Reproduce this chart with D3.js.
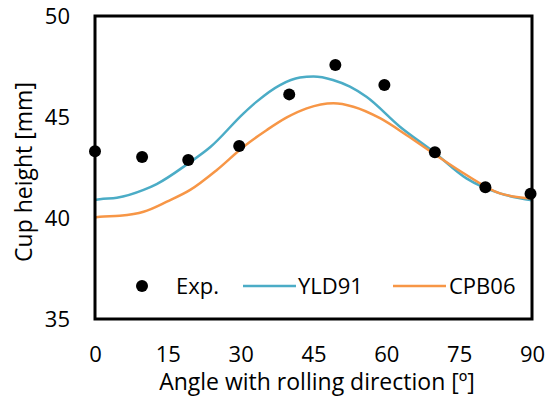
<!DOCTYPE html>
<html>
<head>
<meta charset="utf-8">
<script src="https://cdn.jsdelivr.net/npm/d3@7"></script>
<style>
  body { margin: 0; background: #fff; }
  text { font-family: "Open Sans", "Liberation Sans", sans-serif; fill: #000; }
</style>
</head>
<body>
<svg id="chart" width="556" height="401"></svg>
<script>
// measured points
const expAngle = [0, 9.7, 19.2, 29.7, 40, 49.5, 59.6, 70, 80.4, 89.7];
const expHeight = [43.3, 43.02, 42.87, 43.56, 46.12, 47.58, 46.58, 43.25, 41.52, 41.2];

// simulated curves
const yldAngle = [0, 1, 4.5, 10, 12.7, 19.2, 23.7, 30.6, 33.3, 38.1, 42.2, 45, 49, 52.5, 55.9, 62.8, 69.7, 76.5, 83.4, 90];
const yldHeight = [40.89, 40.93, 41.0, 41.39, 41.68, 42.7, 43.5, 45.18, 45.76, 46.58, 46.95, 47.0, 46.83, 46.5, 46.0, 44.52, 43.28, 41.96, 41.22, 40.88];

const cpbAngle = [0, 1, 5.1, 10, 14.8, 19.6, 25.1, 30.6, 35.4, 39.5, 43.6, 49.1, 53.2, 58.7, 64.2, 69.7, 76.5, 83.4, 90];
const cpbHeight = [40.03, 40.06, 40.11, 40.31, 40.81, 41.39, 42.38, 43.53, 44.36, 44.98, 45.43, 45.68, 45.51, 44.94, 44.1, 43.2, 42.13, 41.22, 40.96];

const xTicks = [0, 15, 30, 45, 60, 75, 90];
const yTicks = [35, 40, 45, 50];

const seriesNames = ['Exp.', 'YLD91', 'CPB06'];
const seriesColors = ['#000000', '#4bacc6', '#f79646'];

const svg = d3.select('#chart');
const margin = { left: 95, right: 24, top: 16, bottom: 82 };
const width = 556 - margin.left - margin.right;
const height = 401 - margin.top - margin.bottom;

const x = d3.scaleLinear().domain([0, 90]).range([margin.left, margin.left + width]);
const y = d3.scaleLinear().domain([35, 50]).range([margin.top + height, margin.top]);

// axes: tick labels only, no tick marks
const xAxis = svg.append('g')
    .attr('transform', `translate(0, ${margin.top + height})`)
    .call(d3.axisBottom(x).tickValues(xTicks).tickSize(0).tickPadding(27));
xAxis.select('.domain').remove();
xAxis.selectAll('text')
    .attr('font-size', 22)
    .style('font-family', '"Open Sans", sans-serif')
    .attr('fill', '#000');

const yAxis = svg.append('g')
    .attr('transform', `translate(${margin.left}, 0)`)
    .call(d3.axisLeft(y).tickValues(yTicks).tickSize(0).tickPadding(25));
yAxis.select('.domain').remove();
yAxis.selectAll('text')
    .attr('font-size', 22)
    .style('font-family', '"Open Sans", sans-serif')
    .attr('fill', '#000');

// lines
const lineGen = d3.line()
    .x(d => x(d[0]))
    .y(d => y(d[1]))
    .curve(d3.curveMonotoneX);

svg.append('path')
    .datum(d3.zip(yldAngle, yldHeight))
    .attr('fill', 'none')
    .attr('stroke', seriesColors[1])
    .attr('stroke-width', 2.5)
    .attr('d', lineGen);

svg.append('path')
    .datum(d3.zip(cpbAngle, cpbHeight))
    .attr('fill', 'none')
    .attr('stroke', seriesColors[2])
    .attr('stroke-width', 2.5)
    .attr('d', lineGen);

// frame
svg.append('rect')
    .attr('x', margin.left)
    .attr('y', margin.top)
    .attr('width', width)
    .attr('height', height)
    .attr('fill', 'none')
    .attr('stroke', '#000')
    .attr('stroke-width', 3);

// experimental points
svg.append('g')
    .selectAll('circle')
    .data(d3.zip(expAngle, expHeight))
    .join('circle')
    .attr('cx', d => x(d[0]))
    .attr('cy', d => y(d[1]))
    .attr('r', 6)
    .attr('fill', seriesColors[0]);

// legend
const legY = 286;
const legend = svg.append('g');
legend.append('circle')
    .attr('cx', 142).attr('cy', legY).attr('r', 6).attr('fill', seriesColors[0]);
legend.append('text')
    .attr('x', 176).attr('y', legY).attr('dy', '0.35em')
    .attr('font-size', 22).text(seriesNames[0]);
legend.append('line')
    .attr('x1', 243).attr('x2', 296).attr('y1', legY).attr('y2', legY)
    .attr('stroke', seriesColors[1]).attr('stroke-width', 2.5);
legend.append('text')
    .attr('x', 298).attr('y', legY).attr('dy', '0.35em')
    .attr('font-size', 22).text(seriesNames[1]);
legend.append('line')
    .attr('x1', 393).attr('x2', 446).attr('y1', legY).attr('y2', legY)
    .attr('stroke', seriesColors[2]).attr('stroke-width', 2.5);
legend.append('text')
    .attr('x', 449).attr('y', legY).attr('dy', '0.35em')
    .attr('font-size', 22).text(seriesNames[2]);

// axis titles
svg.append('text')
    .attr('x', 317)
    .attr('y', 390)
    .attr('text-anchor', 'middle')
    .attr('font-size', 23)
    .text('Angle with rolling direction [º]');

svg.append('text')
    .attr('transform', `translate(32, 172) rotate(-90)`)
    .attr('text-anchor', 'middle')
    .attr('font-size', 23)
    .text('Cup height [mm]');
</script>
</body>
</html>
